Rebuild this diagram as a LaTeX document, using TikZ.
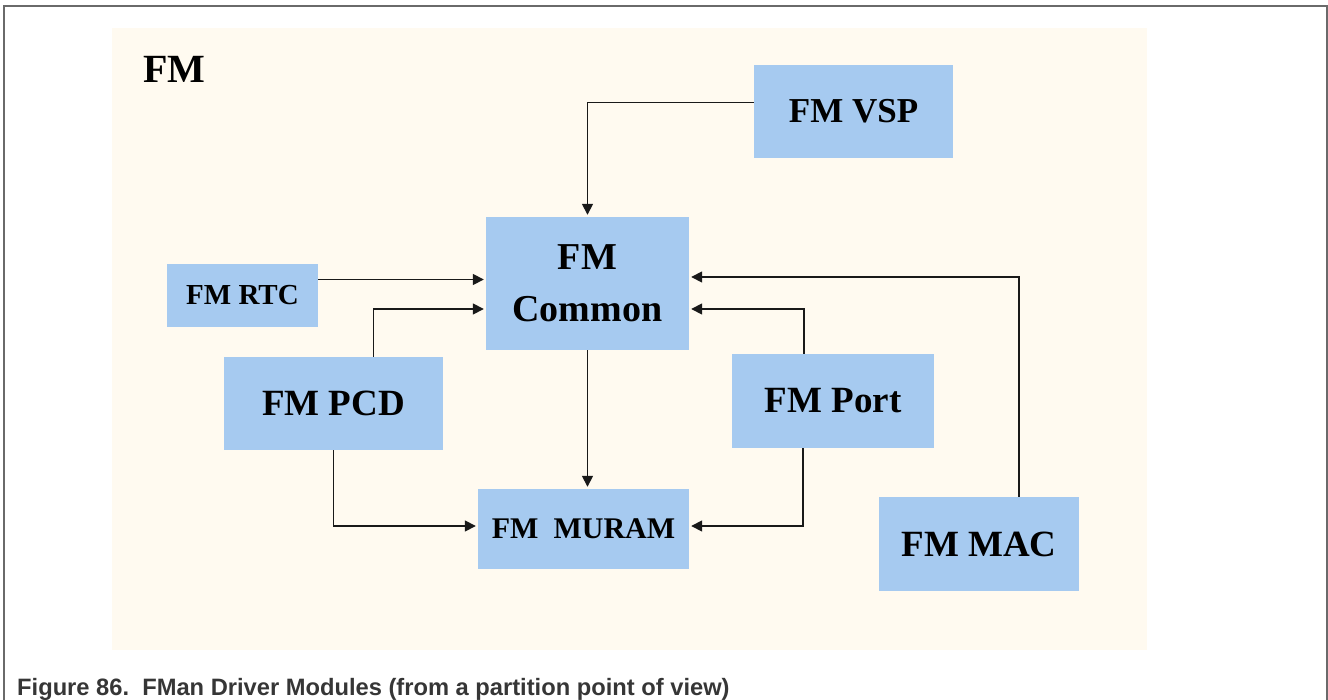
\documentclass[tikz,border=0pt]{standalone}
\usepackage{fontspec}
\setmainfont{Liberation Serif}
\setsansfont{Liberation Sans}
\usepackage{tikz}
\usetikzlibrary{arrows.meta,positioning,calc}
\definecolor{Frame}{HTML}{6A6A6A}
\definecolor{Cream}{HTML}{FFFAF0}
\definecolor{BoxBlue}{HTML}{A6CAF0}
\definecolor{Caption}{HTML}{363636}
\tikzset{
  module/.style={fill=BoxBlue,inner sep=0pt,align=center,text=black,font=\bfseries},
  arrow/.style={-{Triangle[length=11pt,width=11pt]},line width=1.6pt,draw=black!90,shorten >=2pt},
  frame/.style={draw=Frame,line width=1.3pt}
}

\begin{document}
\begin{tikzpicture}[x=1pt,y=-1pt]
  \useasboundingbox (0,0) rectangle (1328,700);
  \draw[frame] (4,700) -- (4,6) -- (1327,6) -- (1327,700);
  \fill[Cream] (112,28) rectangle (1147,650);
  \node[anchor=base west,inner sep=0pt,font=\bfseries\fontsize{40}{44}\selectfont] (title) at (143,83) {FM};
  \node[module,minimum width=199pt,minimum height=93pt,font=\bfseries\fontsize{35}{40}\selectfont] (vsp) at (853.5,111.5) {FM VSP};
  \node[module,minimum width=203pt,minimum height=133pt,font=\bfseries\fontsize{38}{52}\selectfont] (common) at (587.5,283.5) {FM\\Common};
  \node[module,minimum width=151pt,minimum height=63pt,font=\bfseries\fontsize{29}{34}\selectfont] (rtc) at (242.5,295.5) {FM RTC};
  \node[module,minimum width=219pt,minimum height=93pt,font=\bfseries\fontsize{37}{42}\selectfont] (pcd) at (333.5,403.5) {FM PCD};
  \node[module,minimum width=202pt,minimum height=94pt,font=\bfseries\fontsize{37}{42}\selectfont] (port) at (833,401) {FM Port};
  \node[module,minimum width=211pt,minimum height=80pt,font=\bfseries\fontsize{30}{35}\selectfont] (muram) at (583.5,529) {FM\ \ MURAM};
  \node[module,minimum width=200pt,minimum height=94pt,font=\bfseries\fontsize{37}{42}\selectfont] (mac) at (979,544) {FM MAC};
  \coordinate (vspout) at ([yshift=9pt]vsp.west);
  \coordinate (rtcout) at ([yshift=16pt]rtc.east);
  \coordinate (cinlow) at ([yshift=-25.5pt]common.west);
  \coordinate (coutlow) at ([yshift=-25.5pt]common.east);
  \coordinate (couthigh) at ([yshift=6.5pt]common.east);
  \draw[arrow] (vspout) -| (common.north); \draw[arrow] (rtcout) -- (rtcout -| common.west);
  \draw[arrow] ([xshift=40pt]pcd.north) |- (cinlow); \draw[arrow] ([xshift=-29pt]port.north) |- (coutlow);
  \draw[arrow] ([xshift=40pt]mac.north) |- (couthigh); \draw[arrow] (common.south) -- (common.south |- muram.north);
  \draw[arrow] (pcd.south) |- ([yshift=3pt]muram.west); \draw[arrow] ([xshift=-30pt]port.south) |- ([yshift=3pt]muram.east);
  \node[anchor=base west,inner sep=0pt,text=Caption,font=\sffamily\bfseries\fontsize{23.7}{26}\selectfont] (caption) at (17,695) {Figure 86.\ \ FMan Driver Modules (from a partition point of view)};
\end{tikzpicture}
\end{document}
